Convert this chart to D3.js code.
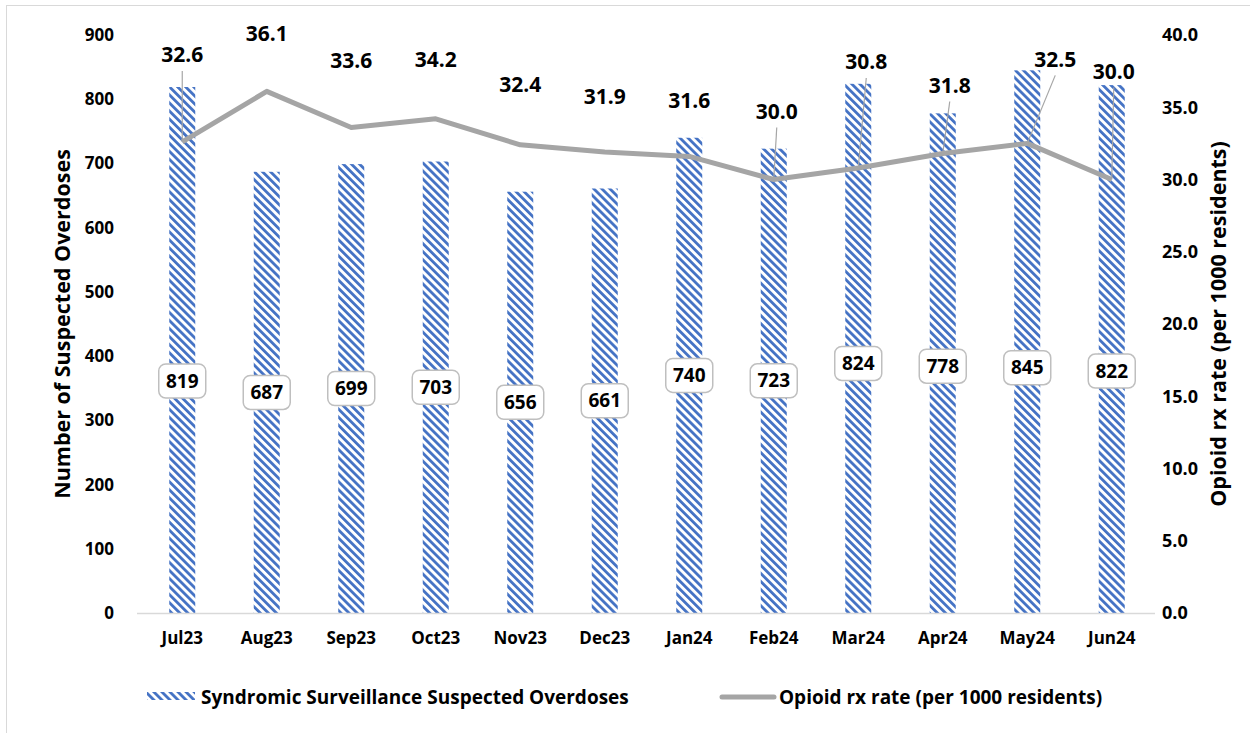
<!DOCTYPE html>
<html>
<head>
<meta charset="utf-8">
<script src="https://cdn.jsdelivr.net/npm/d3@7"></script>
<style>
  body { margin: 0; background: #fff; }
  text { font-family: "Open Sans", Lato, sans-serif; font-weight: bold; fill: #000; }
</style>
</head>
<body>
<div class="chartContainer"></div>
<script>
// data
const months = ["Jul23", "Aug23", "Sep23", "Oct23", "Nov23", "Dec23",
  "Jan24", "Feb24", "Mar24", "Apr24", "May24", "Jun24"];
const overdoses = [819, 687, 699, 703, 656, 661, 740, 723, 824, 778, 845, 822];
const rxRate = [32.6, 36.1, 33.6, 34.2, 32.4, 31.9, 31.6, 30.0, 30.8, 31.8, 32.5, 30.0];
const leftTicks = [0, 100, 200, 300, 400, 500, 600, 700, 800, 900];
const rightTicks = [0, 5, 10, 15, 20, 25, 30, 35, 40];

// hand-placed label offsets (pixels), as in the original workbook
const rateLabelShift = [[0, -87], [0, -58], [0, -67], [0, -59], [0, -60], [0, -55],
  [0, -56], [3, -68], [8, -106], [7, -68], [28, -84], [2, -108]];
const rateLeader = [true, false, false, false, false, false, false, true, true, true, true, true];
const countLabelShift = [31, 0, 0, 0, 0, 0, 0, 0, 15, 3, 26, 22];

const w = 1250;
const h = 733;
const plotLeft = 140, plotRight = 1154, plotTop = 35, plotBottom = 613;

const svg = d3.select(".chartContainer")
  .append("svg")
  .attr("width", w)
  .attr("height", h);

// chart border
svg.append("rect")
  .attr("x", 6.5).attr("y", 5.5)
  .attr("width", 1400).attr("height", 900)
  .attr("fill", "none")
  .attr("stroke", "#d9d9d9");

// hatch pattern (wide downward diagonal)
const defs = svg.append("defs");
const pat = defs.append("pattern")
  .attr("id", "hatch")
  .attr("patternUnits", "userSpaceOnUse")
  .attr("width", 5.7)
  .attr("height", 5.7)
  .attr("patternTransform", "rotate(-45)");
pat.append("rect")
  .attr("x", 0).attr("y", 0)
  .attr("width", 2.8).attr("height", 5.7)
  .attr("fill", "#4472c4");

const xScale = d3.scaleBand()
  .domain(months)
  .range([plotLeft, plotRight]);

const yScale = d3.scaleLinear().domain([0, 900]).range([plotBottom, plotTop]);
const y2Scale = d3.scaleLinear().domain([0, 40]).range([plotBottom, plotTop]);

const cx = (m) => xScale(m) + xScale.bandwidth() / 2;
const barW = 26;

// bars
svg.selectAll("rect.bar")
  .data(overdoses)
  .enter()
  .append("rect")
  .attr("class", "bar")
  .attr("x", (d, i) => cx(months[i]) - barW / 2)
  .attr("y", (d) => yScale(d))
  .attr("width", barW)
  .attr("height", (d) => plotBottom - yScale(d))
  .attr("fill", "url(#hatch)");

// x axis line
svg.append("line")
  .attr("x1", plotLeft - 3).attr("x2", plotRight + 1)
  .attr("y1", plotBottom + 0.5).attr("y2", plotBottom + 0.5)
  .attr("stroke", "#d9d9d9")
  .attr("stroke-width", 1.5);

// left axis
const yAxis = d3.axisLeft(yScale).tickValues(leftTicks).tickSize(0).tickPadding(0);
const gy = svg.append("g")
  .attr("transform", "translate(114,0)")
  .call(yAxis);
gy.select(".domain").remove();
gy.selectAll("text").style("font-size", "17px");

// right axis
const y2Axis = d3.axisRight(y2Scale).tickValues(rightTicks).tickSize(0).tickPadding(0)
  .tickFormat(d3.format(".1f"));
const gy2 = svg.append("g")
  .attr("transform", "translate(1162,0)")
  .call(y2Axis);
gy2.select(".domain").remove();
gy2.selectAll("text").style("font-size", "18px");

// x axis labels
const xAxis = d3.axisBottom(xScale).tickSize(0).tickPadding(0);
const gx = svg.append("g")
  .attr("transform", "translate(0,632)")
  .call(xAxis);
gx.select(".domain").remove();
gx.selectAll("text").style("font-size", "17px");

// axis titles
svg.append("text")
  .attr("transform", "translate(70," + (plotTop + plotBottom) / 2 + ")rotate(-90)")
  .attr("text-anchor", "middle")
  .style("font-size", "21.5px")
  .text("Number of Suspected Overdoses");

svg.append("text")
  .attr("transform", "translate(1226," + (plotTop + plotBottom) / 2 + ")rotate(-90)")
  .attr("text-anchor", "middle")
  .style("font-size", "21.5px")
  .text("Opioid rx rate (per 1000 residents)");

// rate line
const line = d3.line()
  .x((d, i) => cx(months[i]))
  .y((d) => y2Scale(d));

svg.append("path")
  .datum(rxRate)
  .attr("d", line)
  .attr("fill", "none")
  .attr("stroke", "#a5a5a5")
  .attr("stroke-width", 5)
  .attr("stroke-linejoin", "round");

// leader lines
rxRate.forEach((d, i) => {
  if (!rateLeader[i]) return;
  const px = cx(months[i]);
  const py = y2Scale(d);
  const lx = px + rateLabelShift[i][0];
  const ly = py + rateLabelShift[i][1] + 16;
  svg.append("line")
    .attr("x1", lx).attr("y1", ly)
    .attr("x2", px).attr("y2", py)
    .attr("stroke", "#a6a6a6")
    .attr("stroke-width", 1.2);
});

// rate labels
svg.selectAll("text.rate")
  .data(rxRate)
  .enter()
  .append("text")
  .attr("class", "rate")
  .attr("x", (d, i) => cx(months[i]) + rateLabelShift[i][0])
  .attr("y", (d, i) => y2Scale(d) + rateLabelShift[i][1])
  .attr("dy", "0.35em")
  .attr("text-anchor", "middle")
  .style("font-size", "21px")
  .text((d) => d.toFixed(1));

// count labels in boxes
const boxes = svg.selectAll("g.count")
  .data(overdoses)
  .enter()
  .append("g")
  .attr("class", "count")
  .attr("transform", (d, i) =>
    "translate(" + cx(months[i]) + "," + (yScale(d / 2) + countLabelShift[i]) + ")");

boxes.append("rect")
  .attr("x", -23.5).attr("y", -17)
  .attr("width", 47).attr("height", 34)
  .attr("rx", 7)
  .attr("fill", "#fff")
  .attr("stroke", "#bfbfbf")
  .attr("stroke-width", 1.5);

boxes.append("text")
  .attr("text-anchor", "middle")
  .attr("dy", "0.35em")
  .style("font-size", "19px")
  .text((d) => d);

// legend
const legend = svg.append("g").attr("id", "legend");
legend.append("rect")
  .attr("x", 147).attr("y", 692)
  .attr("width", 48).attr("height", 8)
  .attr("fill", "url(#hatch)");
legend.append("text")
  .attr("x", 201).attr("y", 697)
  .attr("dy", "0.35em")
  .style("font-size", "19px")
  .text("Syndromic Surveillance Suspected Overdoses");

legend.append("line")
  .attr("x1", 722).attr("x2", 774)
  .attr("y1", 697).attr("y2", 697)
  .attr("stroke", "#a5a5a5")
  .attr("stroke-width", 5)
  .attr("stroke-linecap", "round");
legend.append("text")
  .attr("x", 779).attr("y", 697)
  .attr("dy", "0.35em")
  .style("font-size", "19px")
  .text("Opioid rx rate (per 1000 residents)");
</script>
</body>
</html>
